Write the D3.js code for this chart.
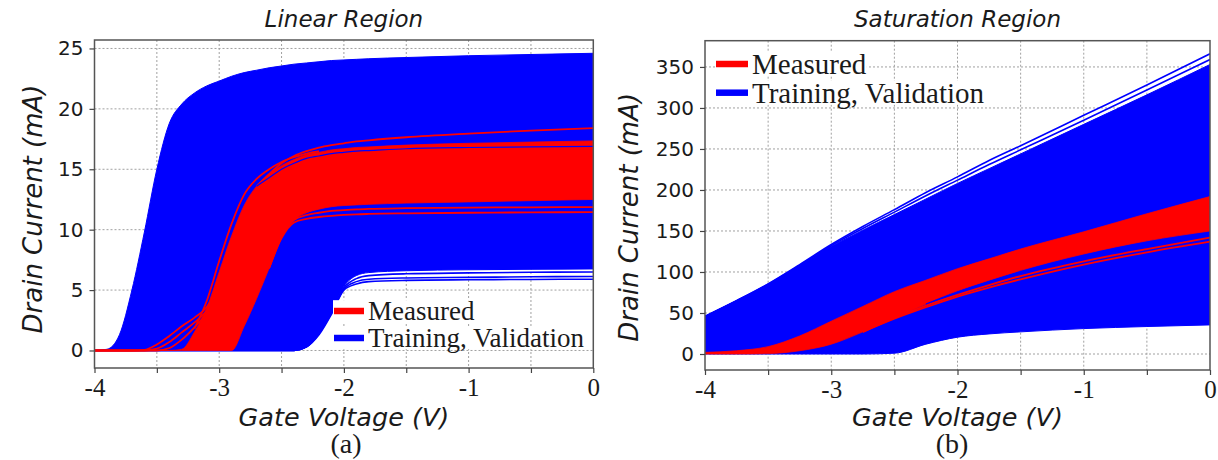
<!DOCTYPE html>
<html><head><meta charset="utf-8">
<script src="https://cdn.jsdelivr.net/npm/d3@7"></script>
<style>body{margin:0;background:#fff}</style>
</head><body><svg id="c" width="1218" height="460"></svg>
<script>
// ---------- (a) Linear region ----------
const linV = [-4, -3.9, -3.8, -3.7, -3.6, -3.5, -3.4, -3.3, -3.2, -3.1, -3.0, -2.9, -2.8, -2.7, -2.6, -2.5, -2.4, -2.3, -2.2, -2.1, -2.0, -1.9, -1.8, -1.5, -1.0, -0.5, 0];
const linBlueTop    = [0, 0.1, 1.3, 5.0, 9.8, 15.0, 18.8, 20.4, 21.3, 21.9, 22.3, 22.7, 23.0, 23.2, 23.4, 23.55, 23.7, 23.8, 23.9, 24.0, 24.05, 24.1, 24.15, 24.25, 24.4, 24.5, 24.6];
const linBlueBottom = [0, 0, 0, 0, 0, 0, 0, 0, 0, 0, 0, 0, 0, 0, 0, 0, 0, 0.3, 1.4, 3.2, 5.3, 6.2, 6.45, 6.6, 6.68, 6.72, 6.75];
const linBlueLow1   = [0, 0, 0, 0, 0, 0, 0, 0, 0, 0, 0, 0, 0, 0, 0, 0, 0, 0.3, 1.4, 3.2, 5.2, 5.95, 6.2, 6.35, 6.42, 6.47, 6.5];
const linBlueLow2   = [0, 0, 0, 0, 0, 0, 0, 0, 0, 0, 0, 0, 0, 0, 0, 0, 0, 0.3, 1.4, 3.1, 5.1, 5.7, 5.9, 6.0, 6.05, 6.1, 6.12];
const linBlueLow3   = [0, 0, 0, 0, 0, 0, 0, 0, 0, 0, 0, 0, 0, 0, 0, 0, 0, 0.3, 1.3, 3.0, 5.0, 5.5, 5.7, 5.8, 5.85, 5.88, 5.9];
const linRedTop     = [0, 0, 0, 0, 0, 0, 0, 0.1, 1.5, 3.5, 6.5, 9.5, 12.0, 13.6, 14.6, 15.3, 15.8, 16.2, 16.4, 16.6, 16.7, 16.8, 16.85, 17.0, 17.15, 17.25, 17.35];
const linRedBottom  = [0, 0, 0, 0, 0, 0, 0, 0, 0, 0, 0, 0, 2.0, 4.3, 6.8, 9.4, 10.8, 11.4, 11.7, 11.9, 12.0, 12.05, 12.1, 12.2, 12.3, 12.4, 12.5];
const linRedHigh    = [null, null, null, null, null, null, null, null, null, null, null, null, null, 13.6, 14.6, 15.5, 16.1, 16.5, 16.8, 17.0, 17.15, 17.3, 17.4, 17.65, 17.95, 18.2, 18.4];
const linRedEdge    = [null, null, null, null, null, null, null, null, 1.8, 4.1, 7.4, 10.5, 12.9, 14.2, 15.0, 15.6, 16.0, 16.3, 16.5, null, null, null, null, null, null, null, null];
const linRedLow1    = [null, null, null, null, null, null, null, null, null, null, null, null, null, null, 6.8, 9.4, 10.8, 11.2, 11.4, 11.55, 11.62, 11.68, 11.72, 11.78, 11.83, 11.85, 11.87];
const linRedLow2    = [null, null, null, null, null, null, null, null, null, null, null, null, null, null, 6.8, 9.3, 10.6, 10.9, 11.05, 11.15, 11.22, 11.27, 11.3, 11.35, 11.4, 11.43, 11.45];
const linRedSpur1   = [0, 0, 0, 0, 0.05, 0.5, 1.2, 2.0, 2.7, 3.6, 5.5, 8.5, 11.2, 13.0, null, null, null, null, null, null, null, null, null, null, null, null, null];
const linRedSpur2   = [0, 0, 0, 0, 0, 0.15, 0.7, 1.5, 2.3, 3.3, 5.0, 8.0, 10.8, 12.6, null, null, null, null, null, null, null, null, null, null, null, null, null];
const linRedSpur3   = [0, 0, 0, 0, 0, 0, 0.2, 0.9, 1.9, 3.1, 4.8, 7.5, 10.3, 12.3, null, null, null, null, null, null, null, null, null, null, null, null, null];
const linBlueInner  = [null, null, null, null, null, null, null, null, null, null, null, null, null, 13.6, 14.3, 15.0, 15.5, 15.9, 16.1, 16.3, 16.4, 16.5, 16.55, 16.7, 16.8, 16.85, 16.9];
const linYTicks = [0, 5, 10, 15, 20, 25];

// ---------- (b) Saturation region ----------
const satV = [-4, -3.75, -3.5, -3.25, -3.0, -2.75, -2.5, -2.25, -2.0, -1.75, -1.5, -1.0, -0.5, 0];
const satBlueTop    = [46, 65, 85, 108, 131, 151, 170, 189, 208, 226, 244, 280, 316, 353];
const satBlueBottom = [0, 0, 0, 0, 0, 0, 1, 12, 20.5, 24.5, 27, 31, 33.5, 35.5];
const satBlueLine1  = [46, 65, 85.5, 109, 133.5, 155.5, 176, 197, 216, 236, 254, 291, 328, 366];
const satBlueLine2  = [46, 65, 85, 108, 132, 153, 173, 193, 212, 231, 249, 285, 322, 359];
const satRedTop     = [2, 4, 9, 22, 40, 58, 76, 90, 104, 116, 128, 149, 171, 192];
const satRedBottom  = [0, 0, 0.5, 4, 12, 27, 44, 61, 77, 90, 102, 122, 138, 150];
const satRedLow1    = [null, null, null, null, null, 27, 44, 59, 72, 84, 95, 113, 128, 142];
const satRedLow2    = [null, null, null, null, null, 27, 43, 57, 70, 81, 91, 109, 124, 137];
const satBlueInner  = [null, null, null, null, null, null, null, 61, 75.5, 88, 99.5, 118, 134, 146];
const satYTicks = [0, 50, 100, 150, 200, 250, 300, 350];

const legendLabels = ["Measured", "Training, Validation"];
const BLUE = "#0000ff", RED = "#ff0000";

const svg = d3.select("#c");

function panel(o) {
  const g = svg.append("g");
  const x = d3.scaleLinear().domain([-4, 0]).range([o.x0, o.x1]);
  const y = d3.scaleLinear().domain(o.yDom).range([o.yb, o.yt]);
  const id = "clip" + o.key;
  svg.append("clipPath").attr("id", id).append("rect")
    .attr("x", o.x0).attr("y", o.yt).attr("width", o.x1 - o.x0).attr("height", o.yb - o.yt);

  // grid
  const xg = d3.range(-3.5, 0, 0.5);
  g.selectAll(".vg").data(xg).join("line")
    .attr("x1", d => x(d)).attr("x2", d => x(d)).attr("y1", o.yt).attr("y2", o.yb)
    .attr("stroke", "#a0a0a0").attr("stroke-width", 1).attr("stroke-dasharray", "2,2");
  g.selectAll(".hg").data(o.yTicks).join("line")
    .attr("x1", o.x0).attr("x2", o.x1).attr("y1", d => y(d)).attr("y2", d => y(d))
    .attr("stroke", "#a0a0a0").attr("stroke-width", 1).attr("stroke-dasharray", "2,2");

  const data = g.append("g").attr("clip-path", `url(#${id})`);
  const V = o.V;
  const area = (lo, hi) => d3.area().curve(d3.curveMonotoneX)
      .x((d, i) => x(V[i])).y0((d, i) => y(lo[i])).y1((d, i) => y(hi[i]));
  const line = (arr) => d3.line().curve(d3.curveMonotoneX)
      .defined((d, i) => arr[i] !== null).x((d, i) => x(V[i])).y((d, i) => y(arr[i]));

  data.append("path").attr("d", area(o.blueLo, o.blueHi)(V))
    .attr("fill", BLUE).attr("stroke", BLUE).attr("stroke-width", 1);
  o.blueLines.forEach(a => data.append("path").attr("d", line(a)(V))
    .attr("fill", "none").attr("stroke", BLUE).attr("stroke-width", 1.6));
  data.append("path").attr("d", area(o.redLo, o.redHi)(V))
    .attr("fill", RED).attr("stroke", RED).attr("stroke-width", 0.8);
  o.redLines.forEach(a => data.append("path").attr("d", line(a)(V))
    .attr("fill", "none").attr("stroke", RED).attr("stroke-width", 1.8));
  o.innerLines.forEach(a => data.append("path").attr("d", line(a)(V))
    .attr("fill", "none").attr("stroke", BLUE).attr("stroke-width", 1.2));

  // frame
  g.append("rect").attr("x", o.x0).attr("y", o.yt).attr("width", o.x1 - o.x0).attr("height", o.yb - o.yt)
    .attr("fill", "none").attr("stroke", "#555").attr("stroke-width", 1.5);

  // axes
  const ya = g.append("g").attr("transform", `translate(${o.x0},0)`)
    .call(d3.axisLeft(y).tickValues(o.yTicks).tickSize(5).tickPadding(6).tickFormat(d => String(d)));
  ya.select(".domain").remove();
  ya.selectAll("line").attr("stroke", "#444").attr("stroke-width", 1.2);
  ya.selectAll("text").attr("font-family", "DejaVu Sans").attr("font-size", 20).attr("fill", "#1a1a1a");

  const xa = g.append("g").attr("transform", `translate(0,${o.yb})`)
    .call(d3.axisBottom(x).tickValues(d3.range(-4, 0.01, 0.5)).tickSize(5).tickPadding(5)
      .tickFormat(d => Number.isInteger(d) ? String(d) : ""));
  xa.select(".domain").remove();
  xa.selectAll("line").attr("stroke", "#444").attr("stroke-width", 1.2);
  xa.selectAll("text").attr("font-family", "Liberation Serif").attr("font-size", 25).attr("fill", "#1a1a1a");

  // titles and labels
  const cx = (o.x0 + o.x1) / 2;
  g.append("text").attr("x", cx).attr("y", 27).attr("text-anchor", "middle")
    .attr("font-family", "DejaVu Sans").attr("font-style", "italic").attr("font-size", 23)
    .attr("fill", "#1a1a1a").text(o.title);
  g.append("text").attr("x", cx).attr("y", 426).attr("text-anchor", "middle")
    .attr("font-family", "DejaVu Sans").attr("font-style", "italic").attr("font-size", 25.5)
    .attr("fill", "#1a1a1a").text("Gate Voltage (V)");
  g.append("text").attr("transform", `translate(${o.ylx},${(o.yt + o.yb) / 2 + o.yly}) rotate(-90)`)
    .attr("text-anchor", "middle")
    .attr("font-family", "DejaVu Sans").attr("font-style", "italic").attr("font-size", 26)
    .attr("fill", "#1a1a1a").text("Drain Current (mA)");
  g.append("text").attr("x", o.subx).attr("y", o.suby).attr("text-anchor", "middle")
    .attr("font-family", "Liberation Serif").attr("font-size", 28).attr("fill", "#1a1a1a").text(o.sub);

  // legend
  const lg = g.append("g");
  [RED, BLUE].forEach((c, i) => {
    const yy = o.legY + i * o.legDy;
    const t = lg.append("text").attr("x", o.legX + o.legW + 4).attr("y", yy + o.legFs * 0.34)
      .attr("font-family", "Liberation Serif").attr("font-size", o.legFs).attr("fill", "#1a1a1a")
      .text(legendLabels[i]);
    const bb = t.node().getBBox();
    lg.insert("rect", "text").attr("x", o.legX).attr("y", bb.y + 4).attr("width", bb.x + bb.width - o.legX)
      .attr("height", bb.height - 8).attr("fill", "#fff");
    lg.append("line").attr("x1", o.legX + 1).attr("x2", o.legX + o.legW).attr("y1", yy).attr("y2", yy)
      .attr("stroke", c).attr("stroke-width", 6.5);
  });
}

panel({
  key: "a", V: linV, x0: 94.5, x1: 593.3, yt: 40, yb: 368, yDom: [-1.45, 25.7], yTicks: linYTicks,
  blueLo: linBlueBottom, blueHi: linBlueTop, blueLines: [linBlueLow1, linBlueLow2, linBlueLow3],
  redLo: linRedBottom, redHi: linRedTop,
  redLines: [linRedHigh, linRedEdge, linRedLow1, linRedLow2, linRedSpur1, linRedSpur2, linRedSpur3],
  innerLines: [linBlueInner],
  title: "Linear Region", ylx: 42, yly: 5, sub: "(a)", subx: 346, suby: 453,
  legX: 333, legY: 311, legDy: 27, legW: 31, legFs: 27
});
panel({
  key: "b", V: satV, x0: 705, x1: 1210, yt: 40.7, yb: 370, yDom: [-19.5, 382], yTicks: satYTicks,
  blueLo: satBlueBottom, blueHi: satBlueTop, blueLines: [satBlueLine1, satBlueLine2],
  redLo: satRedBottom, redHi: satRedTop,
  redLines: [satRedLow1, satRedLow2],
  innerLines: [satBlueInner],
  title: "Saturation Region", ylx: 638, yly: 12, sub: "(b)", subx: 952, suby: 453,
  legX: 715, legY: 64, legDy: 28.7, legW: 33, legFs: 29
});
</script></body></html>
